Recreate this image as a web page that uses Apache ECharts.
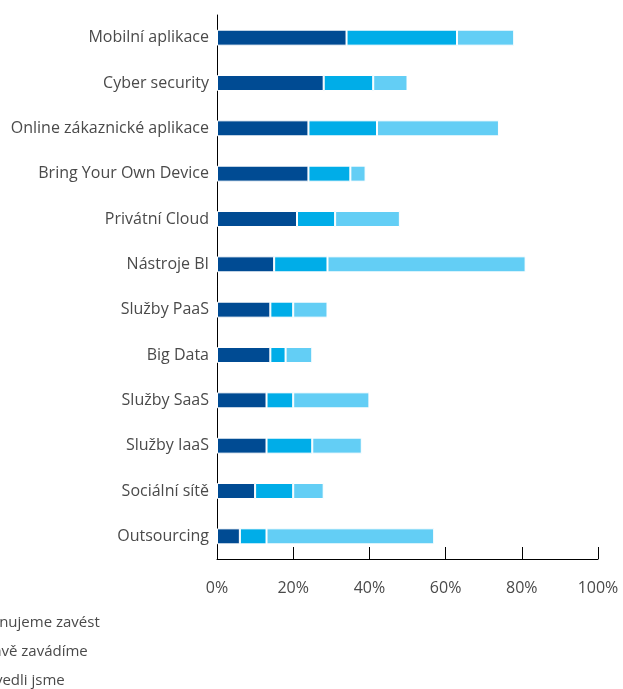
<!DOCTYPE html>
<html>
<head>
<meta charset="utf-8">
<script src="https://cdn.jsdelivr.net/npm/echarts@6/dist/echarts.min.js"></script>
<style>
html,body{margin:0;padding:0;background:#fff;}
#chart{width:623px;height:689px;}
</style>
</head>
<body>
<div id="chart"></div>
<script>
const categories = ["Mobilní aplikace","Cyber security","Online zákaznické aplikace","Bring Your Own Device","Privátní Cloud","Nástroje BI","Služby PaaS","Big Data","Služby SaaS","Služby IaaS","Sociální sítě","Outsourcing"];
const zavedliJsme = [34,28,24,24,21,15,14,14,13,13,10,6];
const praveZavadime = [29,13,18,11,10,14,6,4,7,12,10,7];
const planujemeZavest = [15,9,32,4,17,52,9,7,20,13,8,44];
const xTicks = [0,20,40,60,80,100];

const font = "'Open Sans', 'Noto Sans', sans-serif";
const chart = echarts.init(document.getElementById('chart'));
const mk = (name, data, color) => ({
  name, type: 'bar', stack: 'a', data, barWidth: 16,
  itemStyle: {color, borderColor: '#fff', borderWidth: 1},
  emphasis: {disabled: true}
});
chart.setOption({
  animation: false,
  grid: {left: 217, right: 25, top: 15, bottom: 130},
  xAxis: {
    type: 'value', min: 0, max: 100, interval: 20,
    axisLine: {show: true, lineStyle: {color: '#000', width: 1}},
    axisTick: {show: true, inside: true, length: 12, lineStyle: {color: '#000'}},
    splitLine: {show: false},
    axisLabel: {formatter: v => v + '%', margin: 21, color: '#4a4a4a', fontSize: 16, fontFamily: font}
  },
  yAxis: {
    type: 'category', data: categories, inverse: true,
    axisLine: {show: true, lineStyle: {color: '#000', width: 1}},
    axisTick: {show: false},
    axisLabel: {margin: 8, color: '#4a4a4a', fontSize: 16, fontFamily: font}
  },
  legend: {
    orient: 'vertical', left: -47, top: 610, height: 90, itemGap: 13,
    itemWidth: 14, itemHeight: 14,
    data: ['Plánujeme zavést','Právě zavádíme','Zavedli jsme'],
    textStyle: {color: '#4a4a4a', fontSize: 15, fontFamily: font}
  },
  series: [
    mk('Zavedli jsme', zavedliJsme, '#004B93'),
    mk('Právě zavádíme', praveZavadime, '#00ADE8'),
    mk('Plánujeme zavést', planujemeZavest, '#63CEF5')
  ]
});
</script>
</body>
</html>
